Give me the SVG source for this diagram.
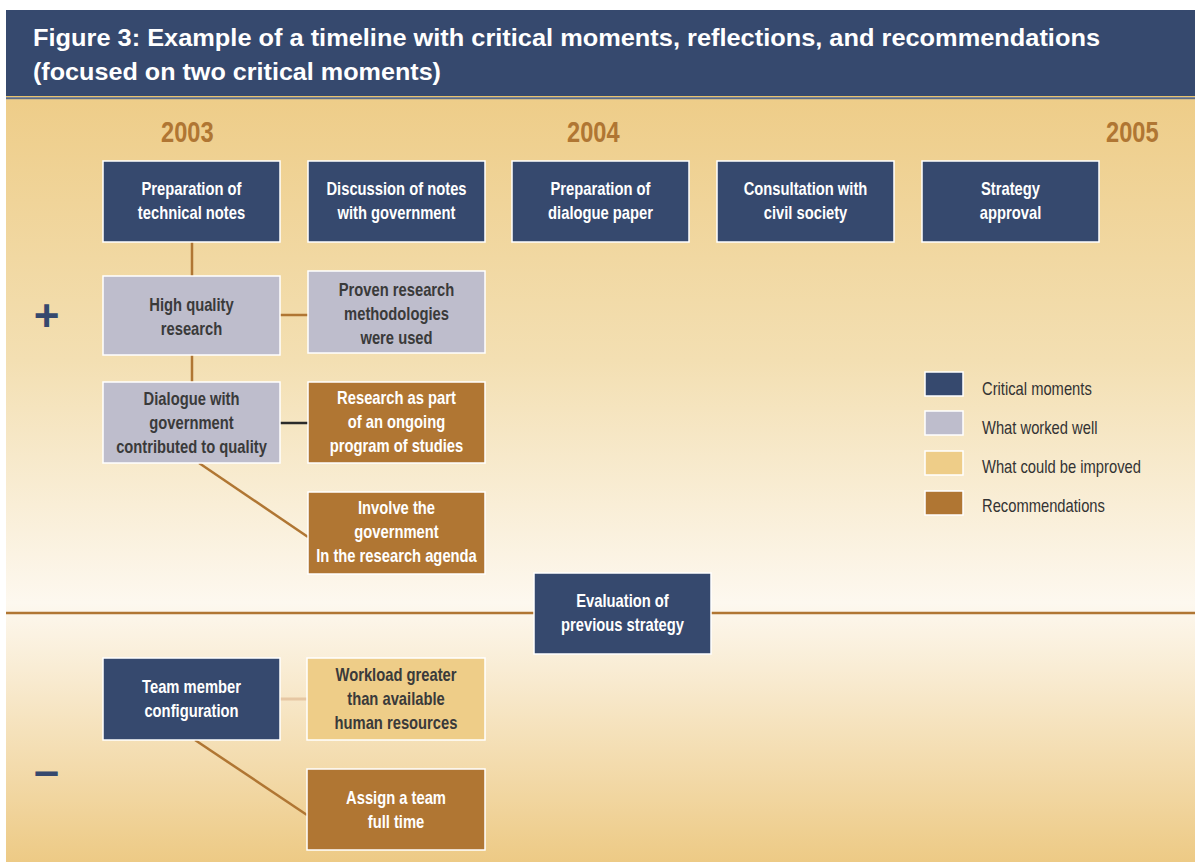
<svg xmlns="http://www.w3.org/2000/svg" width="1195" height="862" viewBox="0 0 1195 862">
  <defs>
    <linearGradient id="bg" x1="0" y1="100" x2="0" y2="862" gradientUnits="userSpaceOnUse">
      <stop offset="0" stop-color="#eecd89"/>
      <stop offset="0.34" stop-color="#f3dfb2"/>
      <stop offset="0.66" stop-color="#fdf8ef"/>
      <stop offset="1" stop-color="#edca85"/>
    </linearGradient>
    <style>
      .box { stroke: #ffffff; stroke-width: 1.5; }
      .cm { fill: #36496e; }
      .ww { fill: #bebdcc; }
      .ci { fill: #eecd88; }
      .rec { fill: #b07633; }
      /* condensed look: glyphs are squeezed horizontally through each text's transform */
      .t { font-family: "Liberation Sans", Arial, sans-serif; font-weight: bold; font-size: 18px; text-anchor: middle; }
      .light { fill: #ffffff; }
      .dark { fill: #3a3a3a; }
      .year { font-family: "Liberation Sans", Arial, sans-serif; font-weight: bold; font-size: 29px; fill: #b07633; }
      .leg { font-family: "Liberation Sans", Arial, sans-serif; font-size: 18px; fill: #333333; }
      .title { font-family: "Liberation Sans", Arial, sans-serif; font-weight: bold; font-size: 24px; fill: #ffffff; }
      .sign { font-family: "Liberation Sans", Arial, sans-serif; font-weight: bold; fill: #36496e; }
      .conn { stroke: #b07633; stroke-width: 2.5; fill: none; }
    </style>
  </defs>

  <!-- page and panel -->
  <rect x="0" y="0" width="1195" height="862" fill="#ffffff"/>
  <rect x="6" y="99" width="1189" height="763" fill="url(#bg)"/>

  <!-- header band -->
  <g id="header">
    <rect x="6" y="10" width="1189" height="87" fill="#36496e"/>
    <rect x="6" y="96" width="1189" height="1.2" fill="#e9c46e"/>
    <rect x="6" y="97.2" width="1189" height="2" fill="#5d6c86"/>
    <text class="title" x="33" y="46" textLength="1067" lengthAdjust="spacingAndGlyphs">Figure 3: Example of a timeline with critical moments, reflections, and recommendations</text>
    <text class="title" x="33" y="80" textLength="408" lengthAdjust="spacingAndGlyphs">(focused on two critical moments)</text>
  </g>

  <!-- years -->
  <g id="years">
    <text class="year" transform="matrix(0.815 0 0 1 161 142)">2003</text>
    <text class="year" transform="matrix(0.815 0 0 1 567 142)">2004</text>
    <text class="year" transform="matrix(0.815 0 0 1 1106 142)">2005</text>
  </g>

  <!-- plus / minus markers -->
  <text class="sign" x="46.5" y="331" font-size="44" text-anchor="middle">+</text>
  <text class="sign" x="46.5" y="786" font-size="45" text-anchor="middle">–</text>

  <!-- connectors -->
  <g id="connectors">
    <line class="conn" x1="6" y1="613" x2="534" y2="613" stroke-width="3"/>
    <line class="conn" x1="711" y1="613" x2="1195" y2="613" stroke-width="3"/>
    <line class="conn" x1="192" y1="242" x2="192" y2="276"/>
    <line class="conn" x1="280" y1="315" x2="308" y2="315"/>
    <line class="conn" x1="192" y1="355" x2="192" y2="382"/>
    <line x1="280" y1="423" x2="308" y2="423" stroke="#2a2a2a" stroke-width="2.5"/>
    <line class="conn" x1="199" y1="463" x2="308" y2="537" stroke-width="2"/>
    <line x1="280" y1="699" x2="307" y2="699" stroke="#e6c7a3" stroke-width="3"/>
    <line class="conn" x1="195" y1="740" x2="307" y2="815" stroke-width="2"/>
  </g>

  <!-- critical moments along the top -->
  <g id="cm-technical-notes">
    <rect class="box cm" x="103" y="161" width="177" height="81"/>
    <text class="t light" transform="matrix(0.82 0 0 1 191.5 195)">Preparation of</text>
    <text class="t light" transform="matrix(0.82 0 0 1 191.5 219)">technical notes</text>
  </g>
  <g id="cm-discussion">
    <rect class="box cm" x="308" y="161" width="177" height="81"/>
    <text class="t light" transform="matrix(0.82 0 0 1 396.5 195)">Discussion of notes</text>
    <text class="t light" transform="matrix(0.82 0 0 1 396.5 219)">with government</text>
  </g>
  <g id="cm-dialogue-paper">
    <rect class="box cm" x="512" y="161" width="177" height="81"/>
    <text class="t light" transform="matrix(0.82 0 0 1 600.5 195)">Preparation of</text>
    <text class="t light" transform="matrix(0.82 0 0 1 600.5 219)">dialogue paper</text>
  </g>
  <g id="cm-consultation">
    <rect class="box cm" x="717" y="161" width="177" height="81"/>
    <text class="t light" transform="matrix(0.82 0 0 1 805.5 195)">Consultation with</text>
    <text class="t light" transform="matrix(0.82 0 0 1 805.5 219)">civil society</text>
  </g>
  <g id="cm-approval">
    <rect class="box cm" x="922" y="161" width="177" height="81"/>
    <text class="t light" transform="matrix(0.82 0 0 1 1010.5 195)">Strategy</text>
    <text class="t light" transform="matrix(0.82 0 0 1 1010.5 219)">approval</text>
  </g>

  <!-- positive branch -->
  <g id="ww-high-quality">
    <rect class="box ww" x="103" y="276" width="177" height="79"/>
    <text class="t dark" transform="matrix(0.82 0 0 1 191.5 311)">High quality</text>
    <text class="t dark" transform="matrix(0.82 0 0 1 191.5 335)">research</text>
  </g>
  <g id="ww-methodologies">
    <rect class="box ww" x="308" y="271" width="177" height="82"/>
    <text class="t dark" transform="matrix(0.82 0 0 1 396.5 296)">Proven research</text>
    <text class="t dark" transform="matrix(0.82 0 0 1 396.5 320)">methodologies</text>
    <text class="t dark" transform="matrix(0.82 0 0 1 396.5 344)">were used</text>
  </g>
  <g id="ww-dialogue">
    <rect class="box ww" x="103" y="382" width="177" height="81"/>
    <text class="t dark" transform="matrix(0.82 0 0 1 191.5 405)">Dialogue with</text>
    <text class="t dark" transform="matrix(0.82 0 0 1 191.5 429)">government</text>
    <text class="t dark" transform="matrix(0.82 0 0 1 191.5 453)">contributed to quality</text>
  </g>
  <g id="rec-ongoing-program">
    <rect class="box rec" x="308" y="382" width="177" height="81"/>
    <text class="t light" transform="matrix(0.82 0 0 1 396.5 404)">Research as part</text>
    <text class="t light" transform="matrix(0.82 0 0 1 396.5 428)">of an ongoing</text>
    <text class="t light" transform="matrix(0.82 0 0 1 396.5 452)">program of studies</text>
  </g>
  <g id="rec-involve-government">
    <rect class="box rec" x="308" y="492" width="177" height="82"/>
    <text class="t light" transform="matrix(0.82 0 0 1 396.5 514)">Involve the</text>
    <text class="t light" transform="matrix(0.82 0 0 1 396.5 538)">government</text>
    <text class="t light" transform="matrix(0.82 0 0 1 396.5 562)">In the research agenda</text>
  </g>

  <!-- evaluation on the timeline -->
  <g id="cm-evaluation">
    <rect class="box cm" x="534" y="573" width="177" height="81"/>
    <text class="t light" transform="matrix(0.82 0 0 1 622.5 607)">Evaluation of</text>
    <text class="t light" transform="matrix(0.82 0 0 1 622.5 631)">previous strategy</text>
  </g>

  <!-- negative branch -->
  <g id="cm-team">
    <rect class="box cm" x="103" y="658" width="177" height="82"/>
    <text class="t light" transform="matrix(0.82 0 0 1 191.5 693)">Team member</text>
    <text class="t light" transform="matrix(0.82 0 0 1 191.5 717)">configuration</text>
  </g>
  <g id="ci-workload">
    <rect class="box ci" x="307" y="658" width="178" height="82"/>
    <text class="t dark" transform="matrix(0.82 0 0 1 396 681)">Workload greater</text>
    <text class="t dark" transform="matrix(0.82 0 0 1 396 705)">than available</text>
    <text class="t dark" transform="matrix(0.82 0 0 1 396 729)">human resources</text>
  </g>
  <g id="rec-assign-team">
    <rect class="box rec" x="307" y="769" width="178" height="81"/>
    <text class="t light" transform="matrix(0.82 0 0 1 396 804)">Assign a team</text>
    <text class="t light" transform="matrix(0.82 0 0 1 396 828)">full time</text>
  </g>

  <!-- legend -->
  <g id="legend">
    <rect class="box cm" x="925" y="372" width="38" height="24"/>
    <text class="leg" transform="matrix(0.82 0 0 1 982 395)">Critical moments</text>
    <rect class="box ww" x="925" y="411" width="38" height="24"/>
    <text class="leg" transform="matrix(0.82 0 0 1 982 434)">What worked well</text>
    <rect class="box ci" x="925" y="451" width="38" height="24"/>
    <text class="leg" transform="matrix(0.82 0 0 1 982 473)">What could be improved</text>
    <rect class="box rec" x="925" y="491" width="38" height="24"/>
    <text class="leg" transform="matrix(0.82 0 0 1 982 512)">Recommendations</text>
  </g>
</svg>
